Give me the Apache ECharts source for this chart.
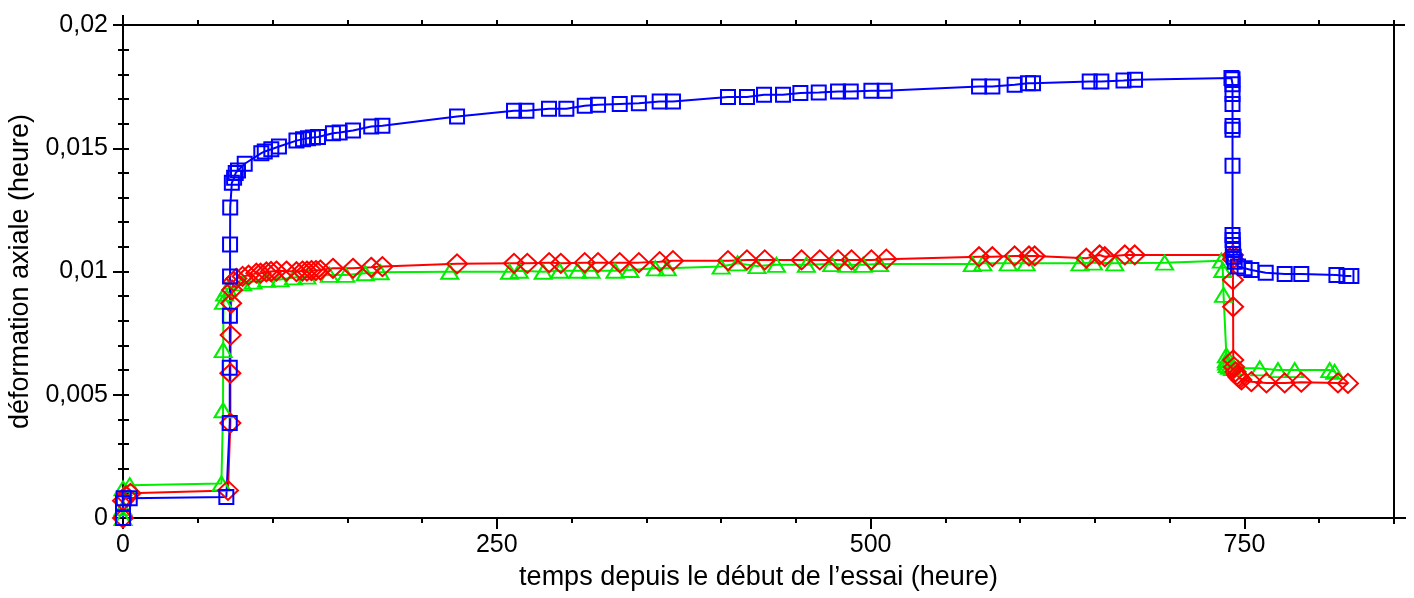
<!DOCTYPE html>
<html>
<head>
<meta charset="utf-8">
<script src="https://cdn.jsdelivr.net/npm/echarts@6/dist/echarts.min.js"></script>
<style>
html,body{margin:0;padding:0;background:#fff;}
#chart{width:1414px;height:598px;}
</style>
</head>
<body>
<div id="chart"></div>
<script>
// ---- data (hours, axial strain) ----
const blueHours = [0, 0, 0.5, 4.5, 69.1, 71.4, 71.4, 71.5, 71.6, 71.6, 71.7, 72.8, 74.3, 75.4, 76.9, 81.4, 92.5, 94.8, 99.2, 104.3, 116, 120.4, 123.7, 127, 130.4, 140.4, 144.9, 153.8, 166, 173.5, 223.4, 261.5, 269.8, 284.9, 296.5, 308.8, 317.7, 332.2, 345, 358.9, 367.8, 404.6, 417.3, 428.7, 441.4, 453, 465.3, 478.2, 486.7, 500.5, 509.4, 572.5, 581.4, 596.3, 605.2, 608.6, 646.5, 654.3, 669.1, 676.8, 741.3, 742, 742, 742, 742, 742, 742, 742, 742, 742.1, 742.2, 742.4, 742.8, 743.5, 745.7, 750.1, 754.6, 764.2, 776.9, 788, 811.5, 818.2, 821.5];
const blueStrain = [0, 0.0006, 0.0008, 0.0008, 0.00085, 0.00385, 0.0061, 0.0082, 0.0098, 0.0111, 0.0126, 0.0136, 0.0138, 0.0140, 0.0141, 0.01437, 0.0148, 0.01487, 0.01496, 0.01507, 0.01531, 0.01537, 0.01541, 0.01544, 0.01546, 0.01561, 0.01564, 0.01572, 0.01588, 0.01591, 0.01629, 0.01652, 0.01652, 0.0166, 0.0166, 0.01672, 0.01676, 0.0168, 0.01683, 0.0169, 0.0169, 0.01708, 0.01708, 0.01717, 0.01717, 0.01724, 0.01726, 0.0173, 0.0173, 0.01733, 0.01733, 0.01751, 0.01751, 0.01758, 0.01764, 0.01764, 0.01771, 0.01771, 0.01775, 0.01778, 0.01785, 0.0178, 0.0176, 0.0172, 0.0168, 0.0159, 0.01575, 0.01429, 0.01148, 0.01128, 0.01107, 0.01087, 0.0106, 0.0104, 0.0102, 0.01013, 0.01006, 0.00995, 0.0099, 0.0099, 0.00986, 0.00982, 0.00982];

const redHours = [0, 0, 2, 5, 70.2, 71.8, 71.8, 72, 72.3, 73, 74, 75.8, 80, 84, 89.2, 92, 95.9, 99, 102.6, 109.3, 116, 120, 123, 126, 129, 132, 140.4, 153.8, 166, 173.5, 223.4, 261.5, 270.4, 285, 292.8, 308.8, 317.7, 332.2, 345, 358.9, 367.8, 404.6, 417.3, 429.2, 453.8, 466, 478.2, 487.2, 500.5, 510.5, 572.5, 581.4, 596.3, 605.9, 609.7, 644.2, 653.1, 656.6, 670, 676.6, 742.3, 742.3, 742.3, 742.4, 742.5, 743, 744, 745, 746, 747, 748, 754.6, 764.7, 776.9, 788, 812.5, 819.2];
const redStrain = [0, 0.0007, 0.0009, 0.001, 0.00112, 0.00385, 0.00587, 0.00742, 0.00871, 0.00925, 0.00959, 0.00972, 0.0098, 0.00985, 0.00993, 0.00993, 0.00998, 0.01, 0.01002, 0.01002, 0.00999, 0.01002, 0.01002, 0.01004, 0.01004, 0.01006, 0.01013, 0.01013, 0.01017, 0.0102, 0.01031, 0.01033, 0.01033, 0.01036, 0.01033, 0.01036, 0.01036, 0.01036, 0.01036, 0.0104, 0.01044, 0.01044, 0.01047, 0.01047, 0.01047, 0.01047, 0.01047, 0.01047, 0.01047, 0.0105, 0.0106, 0.0106, 0.01063, 0.01063, 0.01063, 0.01054, 0.01067, 0.0106, 0.01067, 0.01067, 0.01067, 0.0105, 0.00966, 0.00857, 0.00641, 0.00613, 0.00593, 0.0058, 0.00572, 0.00566, 0.0056, 0.00553, 0.00548, 0.00548, 0.00551, 0.00548, 0.00546];

const greenHours = [0, 0, 0, 4.5, 65.8, 66.9, 67, 67.2, 68, 70, 80, 87, 96, 105, 114, 123, 138, 149, 162, 172, 218.5, 258.5, 265, 281, 292, 304, 313, 329, 339, 356, 364, 400, 411, 424, 437, 457, 474, 484, 495, 506, 568, 575, 592, 604, 640, 649, 663.2, 696.6, 734.6, 735.5, 736, 737.9, 737.9, 738, 738.5, 740, 742, 746, 760.2, 772.4, 783.6, 807, 810.3];
const greenStrain = [0, 0.0004, 0.0012, 0.00133, 0.0014, 0.00437, 0.00681, 0.00877, 0.0091, 0.0093, 0.00952, 0.00959, 0.00966, 0.00968, 0.00976, 0.00979, 0.00986, 0.00986, 0.00993, 0.00997, 0.00999, 0.00999, 0.01003, 0.00999, 0.01003, 0.01003, 0.01003, 0.01003, 0.01006, 0.01013, 0.01013, 0.0102, 0.01033, 0.01022, 0.01027, 0.01027, 0.0103, 0.01027, 0.01027, 0.0103, 0.0103, 0.01033, 0.01033, 0.01033, 0.01033, 0.01036, 0.01033, 0.01036, 0.01044, 0.01006, 0.00905, 0.0066, 0.0064, 0.0063, 0.0062, 0.00613, 0.00608, 0.00607, 0.00607, 0.006, 0.006, 0.006, 0.00593];

const xTickValues = [0, 250, 500, 750];
const xTickLabels = ['0', '250', '500', '750'];
const yTickLabels = ['0', '0,005', '0,01', '0,015', '0,02'];
const xTitle = 'temps depuis le début de l’essai (heure)';
const yTitle = 'déformation axiale (heure)';

function zip(a, b) { return a.map((v, i) => [v, b[i]]); }

const FONT = 'Liberation Sans, Arial, sans-serif';
const FS = 27;   // axis titles
const TS = 25;   // tick labels
const chart = echarts.init(document.getElementById('chart'), null, {renderer: 'canvas'});
const axisLineStyle = {color: '#000', width: 2};

function series(name, hours, strain, color, symbol, size) {
  return {
    name, type: 'line', xAxisIndex: 0, yAxisIndex: 0,
    data: zip(hours, strain),
    symbol, symbolSize: size,
    showAllSymbol: true,
    lineStyle: {color, width: 2},
    itemStyle: {color: 'transparent', borderColor: color, borderWidth: 2},
    emphasis: {disabled: true},
    z: 3
  };
}

chart.setOption({
  animation: false,
  backgroundColor: '#fff',
  grid: {left: 123, right: 20, top: 25, bottom: 80, containLabel: false, outerBoundsMode: 'none'},
  xAxis: [
    {
      type: 'value', position: 'bottom', min: 0, max: 850, interval: 50,
      axisLine: {show: true, lineStyle: axisLineStyle},
      axisTick: {show: true, customValues: xTickValues, length: 11, lineStyle: {color: '#000', width: 2}},
      axisLabel: {
        customValues: xTickValues, margin: 15,
        formatter: v => xTickLabels[xTickValues.indexOf(v)] ?? '',
        color: '#000', fontSize: TS, fontFamily: FONT
      },
      splitLine: {show: false},
      name: xTitle, nameLocation: 'middle', nameGap: 46,
      nameTextStyle: {color: '#000', fontSize: FS, fontFamily: FONT}
    },
    {
      type: 'value', position: 'bottom', min: 0, max: 850, interval: 50,
      axisLine: {show: false},
      axisTick: {show: true, length: 5, lineStyle: {color: '#000', width: 2}},
      axisLabel: {show: false}, splitLine: {show: false}
    },
    {
      type: 'value', position: 'top', min: 0, max: 850, interval: 50,
      axisLine: {show: true, lineStyle: axisLineStyle},
      axisTick: {show: true, length: 5, lineStyle: {color: '#000', width: 2}},
      axisLabel: {show: false}, splitLine: {show: false}
    }
  ],
  yAxis: [
    {
      type: 'value', position: 'left', min: 0, max: 0.02, interval: 0.005,
      axisLine: {show: true, lineStyle: axisLineStyle},
      axisTick: {show: true, length: 10, lineStyle: {color: '#000', width: 2}},
      minorTick: {show: true, splitNumber: 5, length: 5, lineStyle: {color: '#000', width: 2}},
      axisLabel: {
        margin: 15, color: '#000', fontSize: TS, fontFamily: FONT,
        formatter: (v, i) => yTickLabels[Math.round(v / 0.005)]
      },
      splitLine: {show: false},
      name: yTitle, nameLocation: 'middle', nameGap: 73,
      nameTextStyle: {color: '#000', fontSize: FS, fontFamily: FONT}
    },
    {
      type: 'value', position: 'right', min: 0, max: 0.02, interval: 0.001,
      axisLine: {show: true, lineStyle: axisLineStyle},
      axisTick: {show: true, length: 6, lineStyle: {color: '#000', width: 2}},
      axisLabel: {show: false}, splitLine: {show: false}
    }
  ],
  series: [
    series('green', greenHours, greenStrain, '#00ee00', 'triangle', [17, 14]),
    series('red', redHours, redStrain, '#ff0000', 'diamond', [20, 19]),
    series('blue', blueHours, blueStrain, '#0000ff', 'rect', [14, 14])
  ]
});

// small overshoot of the frame lines past the corners
const p0 = chart.convertToPixel({gridIndex: 0}, [0, 0]);
const p1 = chart.convertToPixel({gridIndex: 0}, [850, 0.02]);
const ls = {stroke: '#000', lineWidth: 2};
chart.setOption({
  graphic: [
    {type: 'line', shape: {x1: p0[0] - 10, y1: p1[1], x2: p1[0] + 11, y2: p1[1]}, style: ls, silent: true},
    {type: 'line', shape: {x1: p0[0] - 6, y1: p0[1], x2: p1[0] + 12, y2: p0[1]}, style: ls, silent: true},
    {type: 'line', shape: {x1: p0[0], y1: p1[1] - 10, x2: p0[0], y2: p0[1]}, style: ls, silent: true},
    {type: 'line', shape: {x1: p1[0], y1: p1[1] - 5, x2: p1[0], y2: p0[1] + 6}, style: ls, silent: true}
  ]
});
</script>
</body>
</html>
